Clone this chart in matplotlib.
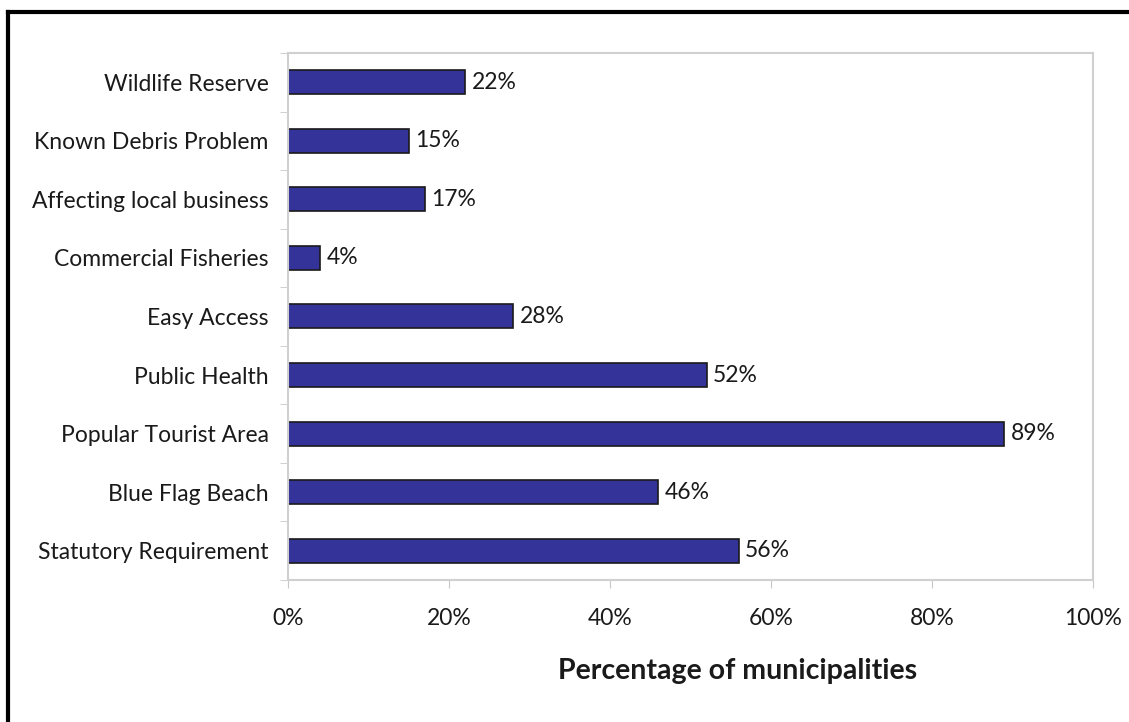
import matplotlib
matplotlib.use("Agg")
import matplotlib.pyplot as plt
from matplotlib.ticker import FixedLocator, NullFormatter

categories = [
    "Statutory Requirement",
    "Blue Flag Beach",
    "Popular Tourist Area",
    "Public Health",
    "Easy Access",
    "Commercial Fisheries",
    "Affecting local business",
    "Known Debris Problem",
    "Wildlife Reserve",
]
values = [56, 46, 89, 52, 28, 4, 17, 15, 22]
x_ticks = [0, 20, 40, 60, 80, 100]
x_tick_labels = ["0%", "20%", "40%", "60%", "80%", "100%"]

plt.rcParams["font.family"] = ["Lato", "DejaVu Sans"]

fig = plt.figure(figsize=(11.29, 7.22), dpi=100)
ax = fig.add_axes([0.2551, 0.1967, 0.7129, 0.7299])

pos = list(range(len(categories)))
ax.barh(pos, values, height=0.41, color="#333399", edgecolor="#1a1a1a", linewidth=1.2)

for p, v in zip(pos, values):
    ax.text(v + 0.8, p, f"{v}%", va="center", ha="left", fontsize=16.5, color="#1a1a1a")

ax.set_xlim(0, 100)
ax.set_ylim(-0.5, len(categories) - 0.5)
ax.set_xticks(x_ticks)
ax.set_xticklabels(x_tick_labels, fontsize=16.5, color="#1a1a1a")
ax.set_yticks(pos)
ax.set_yticklabels(categories, fontsize=16.5, color="#1a1a1a")
ax.tick_params(axis="y", length=0, pad=14)
ax.tick_params(axis="x", length=6, color="#c8c8c8", pad=14)

# minor ticks on y at category boundaries
ax.yaxis.set_minor_locator(FixedLocator([p - 0.5 for p in pos] + [len(pos) - 0.5]))
ax.yaxis.set_minor_formatter(NullFormatter())
ax.tick_params(axis="y", which="minor", length=6, color="#c8c8c8")

for s in ax.spines.values():
    s.set_color("#d0d0d0")
    s.set_linewidth(1.5)

ax.set_xlabel("Percentage of municipalities", fontsize=20.5, fontweight="bold",
              color="#1a1a1a")
ax.xaxis.set_label_coords(0.559, -0.148)

# outer frame (top and left visible)
fig.add_artist(plt.Line2D([0.0070, 1.0], [0.9834, 0.9834], color="black", lw=3,
                          transform=fig.transFigure))
fig.add_artist(plt.Line2D([0.0070, 0.0070], [0.0, 0.9834], color="black", lw=3,
                          transform=fig.transFigure))

fig.savefig("out.png", dpi=100)
